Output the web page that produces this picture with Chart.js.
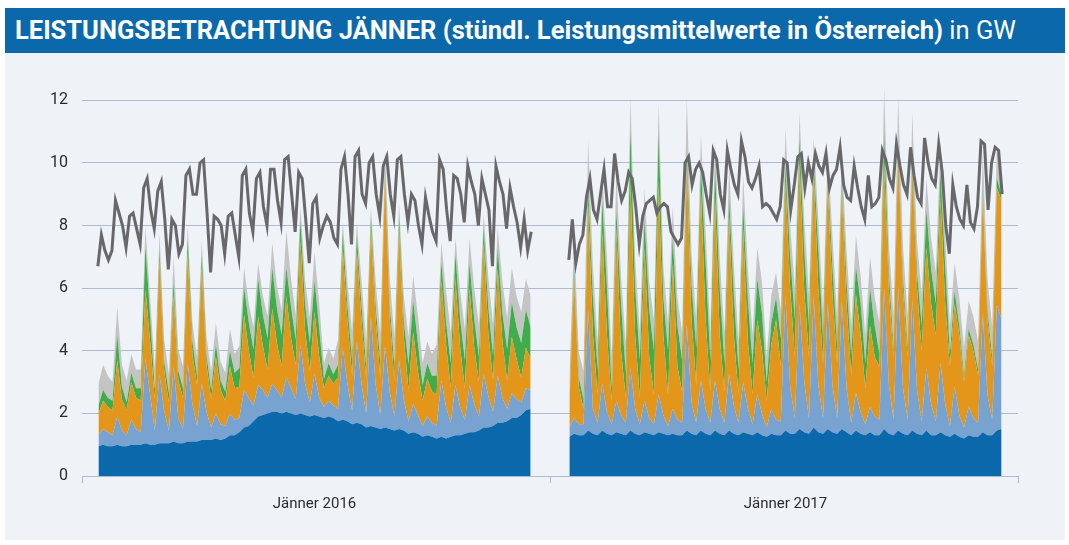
<!DOCTYPE html>
<html>
<head>
<meta charset="utf-8">
<script src="https://cdn.jsdelivr.net/npm/chart.js@4.4.1/dist/chart.umd.min.js"></script>
<style>
  body { margin: 0; background: #fff; width: 1069px; height: 545px; position: relative; overflow: hidden;
         font-family: Roboto, 'Noto Sans', sans-serif; }
  #title { position: absolute; left: 5px; top: 8px; width: 1060px; height: 45px; background: #0a68ab; color: #fff;
           font-size: 25px; line-height: 45px; padding-left: 10px; box-sizing: border-box; white-space: nowrap; overflow: hidden; }
  #titletext { display: inline-block; transform-origin: 0 50%; }
  #panel { position: absolute; left: 5px; top: 53px; width: 1060px; height: 487px; background: #eff3f8; }
</style>
</head>
<body>
<div id="title"><span id="titletext"><b>LEISTUNGSBETRACHTUNG JÄNNER (stündl. Leistungsmittelwerte in Österreich)</b> in GW</span></div>
<div id="panel"><canvas id="chart" width="1060" height="487"></canvas></div>
<script>
// areas: three readings per day (04:00, 12:00, 20:00); load line: four readings per day (03, 09, 15, 21 h)
// 31 days per month, values in GW
const categories = ['Jänner 2016', 'Jänner 2017'];
const areaHours = [4, 12, 20];
const lineHours = [3, 9, 15, 21];
const monthStart = [0, 802];          // month start on the hour axis (gap between the months)
const yTicks = [0, 2, 4, 6, 8, 10, 12];

// Jänner 2016
const lauf16 = [0.95,1.0,0.95, 0.95,1.0,0.95, 0.95,1.0,1.0, 1.0,1.05,1.0, 1.0,1.05,1.05, 1.05,1.1,1.05, 1.05,1.1,1.1,
  1.1,1.15,1.15, 1.15,1.2,1.15, 1.2,1.3,1.3, 1.4,1.55,1.6, 1.75,1.9,1.95, 2.0,2.05,2.05, 2.0,2.05,2.0,
  1.95,2.0,1.95, 1.9,1.95,1.9, 1.85,1.9,1.85, 1.75,1.8,1.75, 1.65,1.7,1.65, 1.55,1.6,1.55, 1.5,1.55,1.5,
  1.45,1.5,1.45, 1.35,1.4,1.35, 1.25,1.3,1.25, 1.2,1.25,1.2, 1.25,1.3,1.3, 1.35,1.4,1.4, 1.45,1.55,1.55,
  1.6,1.7,1.7, 1.75,1.85,1.85, 1.95,2.1,2.15];
const speicher16 = [0.35,0.5,0.45, 0.35,0.9,0.5, 0.35,0.8,0.5, 0.4,2.7,1.6, 0.45,2.2,1.0, 0.4,2.4,0.8, 0.45,2.5,1.2,
  0.5,1.8,0.9, 0.4,0.8,0.5, 0.4,0.7,0.5, 0.45,1.2,0.9, 0.5,1.0,0.8, 0.5,0.9,0.7, 0.5,1.1,0.8,
  0.5,2.2,1.0, 0.45,1.3,0.6, 0.35,0.5,0.4, 0.4,2.3,1.2, 0.45,2.6,1.3, 0.45,3.5,1.4, 0.45,2.6,1.2,
  0.45,2.2,1.0, 0.4,0.9,0.6, 0.35,0.6,0.45, 0.4,1.8,1.0, 0.45,1.6,0.9, 0.45,1.5,0.9, 0.45,1.7,1.0,
  0.45,1.5,0.8, 0.4,0.8,0.6, 0.4,0.7,0.6];
const waerme16 = [0.7,0.9,0.8, 0.8,1.8,1.0, 0.8,1.2,1.0, 1.0,2.2,1.7, 1.0,3.7,1.3, 0.9,2.3,1.2, 1.0,3.5,1.6,
  1.3,3.7,1.5, 0.9,1.8,1.1, 0.8,1.5,1.0, 1.0,2.4,1.5, 0.9,2.2,1.4, 0.9,2.4,1.5, 1.0,2.6,1.6,
  1.1,3.3,1.7, 1.0,2.0,1.3, 0.6,0.8,0.7, 1.0,3.2,2.0, 1.1,2.9,2.0, 1.1,2.8,2.1, 1.2,5.5,2.4,
  1.1,4.2,2.0, 1.0,2.3,1.4, 0.8,1.2,1.0, 1.0,3.2,2.0, 1.1,3.4,1.9, 1.0,3.1,1.8, 1.1,4.2,2.0,
  1.0,3.4,1.8, 0.9,1.8,1.3, 0.8,1.3,1.0];
const wind16 = [0.25,0.35,0.3, 0.3,0.8,0.4, 0.25,0.3,0.3, 0.4,1.4,0.8, 0.3,0.3,0.3, 0.3,0.4,0.3, 0.3,0.5,0.4,
  0.3,0.4,0.3, 0.3,0.4,0.3, 0.3,0.5,0.5, 0.6,0.9,0.9, 0.9,1.2,1.0, 1.0,1.3,1.1, 1.0,0.9,1.0,
  0.8,0.7,0.8, 0.9,1.0,0.9, 0.3,0.4,0.3, 0.4,0.5,0.5, 0.5,0.5,0.5, 0.4,0.4,0.4, 0.5,0.2,0.4,
  0.5,0.4,0.5, 0.8,1.0,0.9, 0.5,0.5,0.5, 0.6,0.6,0.7, 0.8,0.8,0.9, 0.9,0.8,0.9, 0.8,0.5,0.8,
  0.8,0.7,0.9, 1.0,1.1,1.0, 1.1,1.2,1.0];
const sonstige16 = [0.7,0.8,0.7, 0.6,0.9,0.7, 0.7,0.6,0.6, 0.6,0.6,0.6, 0.7,0.5,0.7, 0.6,0.8,0.7, 0.7,0.4,0.6,
  0.6,0.5,0.6, 0.6,0.7,0.6, 0.6,0.7,0.6, 0.7,0.6,0.6, 0.7,0.5,0.6, 0.7,0.8,0.7, 0.8,1.2,0.9,
  0.8,0.4,0.8, 0.8,0.9,0.8, 0.5,0.5,0.5, 0.8,0.3,0.8, 0.9,0.4,0.8, 0.8,0.3,0.8, 0.9,0.6,0.9,
  0.9,0.4,0.8, 0.9,0.8,0.9, 0.7,0.7,0.7, 1.0,0.6,1.0, 1.0,0.5,0.9, 1.0,0.8,1.0, 1.0,0.4,1.0,
  1.0,0.6,1.0, 1.0,1.1,1.0, 1.0,1.0,1.0];
const last16 = [6.7,7.7,7.2,6.9, 7.2,8.8,8.4,8.0, 7.3,8.3,8.4,7.9, 7.4,9.2,9.5,8.5, 7.9,9.1,9.4,8.2,
  6.6,8.2,8.0,7.1, 7.4,9.6,9.8,9.0, 9.0,10.0,10.1,8.4, 6.5,8.3,8.2,8.0, 7.1,8.3,8.4,7.7,
  7.0,9.6,9.8,8.4, 7.8,9.5,9.7,8.6, 8.0,9.8,9.8,8.8, 8.1,10.1,10.2,9.0, 7.8,9.7,9.5,8.2,
  6.8,8.7,8.9,7.6, 8.0,8.3,8.1,7.6, 7.4,9.8,10.2,9.0, 7.4,10.2,10.4,9.0, 8.7,10.0,10.2,9.0,
  8.3,9.9,10.2,9.0, 8.3,10.1,10.2,9.0, 8.1,9.0,8.8,8.0, 7.4,8.9,8.3,7.8, 7.5,10.1,9.8,8.5,
  7.5,9.6,9.5,9.0, 8.1,9.9,9.4,9.0, 8.0,9.5,9.0,8.5, 6.7,9.9,9.4,9.0, 7.9,9.2,8.6,8.1,
  7.3,8.2,7.2,7.8];

// Jänner 2017
const lauf17 = [1.25,1.35,1.3, 1.3,1.45,1.35, 1.3,1.45,1.35, 1.3,1.4,1.35, 1.3,1.45,1.35, 1.3,1.4,1.35, 1.3,1.4,1.35,
  1.3,1.35,1.3, 1.3,1.45,1.35, 1.3,1.45,1.35, 1.3,1.45,1.35, 1.3,1.45,1.35, 1.3,1.4,1.35, 1.3,1.4,1.3,
  1.25,1.35,1.3, 1.3,1.45,1.35, 1.35,1.5,1.4, 1.35,1.55,1.4, 1.35,1.5,1.4, 1.35,1.5,1.4, 1.3,1.45,1.35,
  1.3,1.4,1.3, 1.3,1.5,1.35, 1.3,1.45,1.35, 1.3,1.45,1.35, 1.3,1.45,1.3, 1.3,1.4,1.3, 1.25,1.35,1.25,
  1.2,1.3,1.25, 1.25,1.4,1.3, 1.3,1.45,1.5];
const speicher17 = [0.3,0.5,0.35, 0.35,3.9,0.8, 0.4,1.5,0.7, 0.35,1.0,0.6, 0.4,2.0,0.8, 0.35,1.0,0.5, 0.35,1.2,0.6,
  0.3,0.8,0.5, 0.4,3.4,1.0, 0.4,1.6,0.8, 0.4,1.6,0.8, 0.4,1.8,0.9, 0.4,1.6,0.8, 0.35,1.2,0.7,
  0.3,0.8,0.5, 0.45,4.3,1.5, 0.5,4.0,1.6, 0.5,4.2,1.5, 0.5,4.0,1.5, 0.5,4.1,1.4, 0.4,1.2,0.7,
  0.35,0.8,0.6, 0.5,4.5,1.6, 0.5,4.6,1.5, 0.5,4.2,1.4, 0.45,2.0,1.0, 0.45,2.2,1.0, 0.35,1.5,0.7,
  0.35,0.9,0.6, 0.45,3.8,1.3, 0.5,4.0,3.5];
const waerme17 = [0.6,4.5,1.2, 0.5,3.3,2.4, 0.9,4.85,2.45, 0.75,5.5,2.05, 0.8,5.95,2.35, 0.85,4.9,1.95, 0.95,6.8,2.55,
  1.0,4.65,1.7, 1.0,5.15,2.65, 1.2,6.05,2.85, 1.0,5.85,2.35, 1.0,5.05,2.25, 0.9,4.9,2.15, 0.95,2.4,2.0,
  0.85,2.05,3.2, 1.75,3.65,3.15, 1.95,4.5,2.9, 1.95,3.95,3.1, 1.75,3.9,2.9, 1.75,3.5,2.7, 1.5,3.15,2.45,
  1.15,2.6,1.9, 1.7,4.0,3.05, 2.0,4.25,3.15, 2.0,4.25,3.25, 2.25,3.85,3.2, 2.75,5.3,3.2, 1.9,2.65,2.55,
  1.45,2.3,2.15, 1.5,3.8,2.4, 1.7,3.75,3.8];
const wind17 = [0.2,0.3,0.3, 0.3,0.6,1.2, 0.8,1.0,1.5, 0.4,0.6,1.5, 0.8,1.7,1.5, 1.2,0.9,1.5, 1.4,1.6,1.2,
  1.4,0.8,1.3, 1.0,0.4,1.1, 1.2,0.8,1.8, 1.0,0.9,1.5, 0.9,0.6,1.3, 0.8,0.7,1.3, 1.0,1.3,1.2,
  0.6,0.7,0.7, 0.9,0.5,1.0, 1.2,0.8,1.3, 1.0,0.4,1.2, 0.8,0.3,0.9, 0.6,0.3,0.7, 0.7,0.9,1.0,
  0.8,1.2,1.0, 0.4,1.0,0.5, 0.3,0.3,0.4, 0.3,0.3,0.5, 0.8,1.2,1.1, 1.0,0.8,1.2, 0.4,0.4,0.3,
  0.2,0.2,0.2, 0.2,0.2,0.3, 0.3,0.3,0.2];
const sonstige17 = [0.8,1.0,0.8, 0.9,1.5,1.0, 0.9,0.8,1.0, 1.0,1.2,0.9, 0.9,1.0,0.9, 0.9,1.0,0.9, 1.0,0.9,1.0,
  0.9,1.0,0.9, 0.9,1.7,1.0, 0.9,1.0,1.0, 0.9,0.9,1.0, 0.9,1.0,1.0, 0.9,1.0,1.0, 0.9,1.0,1.0,
  0.8,0.9,0.8, 0.9,1.2,1.0, 1.0,0.8,1.0, 1.0,0.7,1.0, 0.9,0.7,1.0, 0.9,0.8,1.0, 0.9,1.0,0.9,
  0.9,1.0,0.9, 1.0,1.4,1.0, 1.0,1.5,1.0, 1.0,1.4,1.0, 1.0,1.0,1.0, 1.0,1.0,1.0, 0.9,0.9,0.9,
  0.9,0.9,0.9, 0.9,1.2,1.0, 1.0,1.0,0.8];
const last17 = [6.9,8.2,6.8,7.4, 7.7,8.9,9.5,8.5, 8.2,9.0,9.8,8.6, 8.6,10.3,9.4,8.8, 9.1,9.7,9.5,8.6,
  7.4,8.3,8.7,8.8, 8.9,8.4,8.6,8.7, 8.6,7.8,7.6,7.4, 7.6,10.0,10.2,9.3, 9.8,10.0,9.7,9.0,
  8.4,10.4,10.1,9.0, 8.5,10.4,9.8,9.3, 9.0,10.7,10.2,9.4, 9.2,9.5,9.9,8.6, 8.7,8.6,8.4,8.2,
  8.6,10.1,10.0,8.5, 9.3,10.2,10.3,9.2, 10.0,9.5,10.3,9.9, 9.7,10.3,9.2,9.6, 9.8,10.5,9.3,8.9,
  8.8,9.9,9.2,8.6, 8.2,9.6,8.6,8.7, 8.9,10.4,10.1,9.5, 9.2,10.6,9.9,9.3, 9.0,10.5,9.6,8.9,
  8.7,10.8,10.0,9.5, 9.3,10.6,9.7,8.0, 7.1,9.3,8.6,8.2, 8.0,9.3,8.1,7.9, 8.6,10.7,10.6,8.5,
  10.0,10.5,10.4,9.0];

const colors = ['#0a68ab', '#78a3d0', '#e3961a', '#40ad4a', '#c4c4c4'];
const lineColor = '#68686b';
const gridColor = '#adbad3';
const font = 'Roboto, sans-serif';

function points(values, month, hours) {
  const n = hours.length;
  return values.map((v, i) => ({ x: monthStart[month] + Math.floor(i / n) * 24 + hours[i % n], y: v }));
}

const layers = [[lauf16, speicher16, waerme16, wind16, sonstige16], [lauf17, speicher17, waerme17, wind17, sonstige17]];
const loads = [last16, last17];
const datasets = [];
layers.forEach((month, m) => {
  month.forEach((values, k) => {
    datasets.push({
      data: points(values, m, areaHours),
      stack: 'gen' + m,
      backgroundColor: colors[k],
      borderWidth: 0,
      pointRadius: 0,
      fill: k === 0 ? 'origin' : '-1'
    });
  });
});
loads.forEach((values, m) => {
  datasets.push({
    data: points(values, m, lineHours),
    stack: 'load' + m,
    borderColor: lineColor,
    borderWidth: 3,
    pointRadius: 0,
    fill: false,
    order: -1
  });
});

// label positions: middle of each month; tick marks at the edges and between the months
const labelAt = {};
labelAt[monthStart[0] + 372] = categories[0];
labelAt[monthStart[1] + 372] = categories[1];
const xTicks = [-24, monthStart[0] + 372, 773, monthStart[1] + 372, 1570];

new Chart(document.getElementById('chart'), {
  type: 'line',
  data: { datasets },
  options: {
    responsive: false,
    animation: false,
    layout: { padding: { left: 0, right: 47, top: 16, bottom: 0 } },
    plugins: { legend: { display: false }, tooltip: { enabled: false } },
    scales: {
      x: {
        type: 'linear',
        min: -24,
        max: 1570,
        afterBuildTicks: s => { s.ticks = xTicks.map(v => ({ value: v })); },
        afterFit: s => { s.height = 64; },
        ticks: { autoSkip: false, maxRotation: 0, padding: 12, color: '#2b2b2b',
                 font: { family: font, size: 15 }, callback: v => labelAt[v] || '' },
        grid: { drawOnChartArea: false, tickLength: 7,
                color: c => (c.tick && labelAt[c.tick.value]) ? 'rgba(0,0,0,0)' : gridColor },
        border: { color: gridColor }
      },
      y: {
        stacked: true,
        min: 0,
        max: 13,
        afterBuildTicks: s => { s.ticks = yTicks.map(v => ({ value: v })); },
        afterFit: s => { s.width = 77; s.paddingTop = 0; s.paddingBottom = 0; },
        ticks: { padding: 14, color: '#2b2b2b', font: { family: font, size: 16 } },
        grid: { color: gridColor, drawTicks: false },
        border: { display: false }
      }
    }
  }
});

// title: squeeze the line to the width it has in the original
const tt = document.getElementById('titletext');
tt.style.transform = 'scaleX(' + (1001 / tt.getBoundingClientRect().width) + ')';
</script>
</body>
</html>
